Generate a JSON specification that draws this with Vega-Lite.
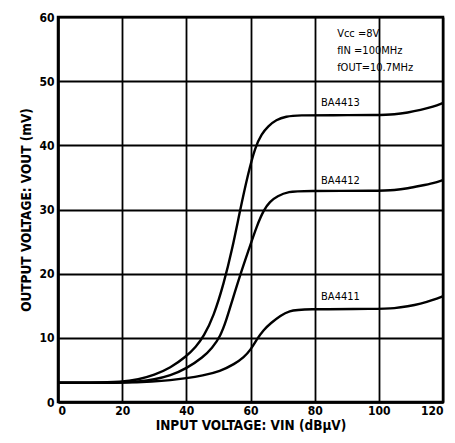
{
  "$schema": "https://vega.github.io/schema/vega-lite/v6.json",
  "width": 385,
  "height": 385,
  "autosize": {"type": "none"},
  "padding": {"left": 58, "top": 17, "right": 12, "bottom": 41},
  "background": "white",
  "config": {
    "view": {"stroke": "black", "strokeWidth": 2.5},
    "font": "DejaVu Sans Condensed, Liberation Sans, sans-serif",
    "axis": {
      "domainColor": "black", "domainWidth": 2.5,
      "gridColor": "black", "gridWidth": 1.8, "gridOpacity": 1,
      "tickColor": "black", "tickSize": 0,
      "labelColor": "black", "labelFont": "DejaVu Sans Condensed, Liberation Sans, sans-serif", "labelFontSize": 12, "labelFontWeight": "bold",
      "titleColor": "black", "titleFont": "DejaVu Sans Condensed, Liberation Sans, sans-serif", "titleFontSize": 13.5, "titleFontWeight": "bold"
    }
  },
  "datasets": {
    "curves": [
      {"series": "BA4413", "x": 0, "y": 3}, {"series": "BA4413", "x": 10, "y": 3}, {"series": "BA4413", "x": 20, "y": 3.1},
      {"series": "BA4413", "x": 25, "y": 3.5}, {"series": "BA4413", "x": 30, "y": 4.2}, {"series": "BA4413", "x": 35, "y": 5.3},
      {"series": "BA4413", "x": 40, "y": 7.1}, {"series": "BA4413", "x": 43, "y": 8.6}, {"series": "BA4413", "x": 45.4, "y": 10.2},
      {"series": "BA4413", "x": 48.5, "y": 13.3}, {"series": "BA4413", "x": 51.7, "y": 18.5}, {"series": "BA4413", "x": 54.3, "y": 23.8},
      {"series": "BA4413", "x": 56.8, "y": 30}, {"series": "BA4413", "x": 59.2, "y": 35.5}, {"series": "BA4413", "x": 61.5, "y": 39.8},
      {"series": "BA4413", "x": 63.5, "y": 41.8}, {"series": "BA4413", "x": 65.5, "y": 43}, {"series": "BA4413", "x": 68, "y": 44},
      {"series": "BA4413", "x": 71, "y": 44.5}, {"series": "BA4413", "x": 75, "y": 44.7}, {"series": "BA4413", "x": 85, "y": 44.7},
      {"series": "BA4413", "x": 100, "y": 44.7}, {"series": "BA4413", "x": 105, "y": 44.8}, {"series": "BA4413", "x": 109, "y": 45.1},
      {"series": "BA4413", "x": 113, "y": 45.5}, {"series": "BA4413", "x": 117, "y": 46}, {"series": "BA4413", "x": 120, "y": 46.6},

      {"series": "BA4412", "x": 0, "y": 3}, {"series": "BA4412", "x": 10, "y": 3}, {"series": "BA4412", "x": 20, "y": 3},
      {"series": "BA4412", "x": 25, "y": 3.2}, {"series": "BA4412", "x": 30, "y": 3.5}, {"series": "BA4412", "x": 35, "y": 4.1},
      {"series": "BA4412", "x": 40, "y": 5.2}, {"series": "BA4412", "x": 45.3, "y": 7}, {"series": "BA4412", "x": 48, "y": 8.4},
      {"series": "BA4412", "x": 50.6, "y": 10.2}, {"series": "BA4412", "x": 52.5, "y": 12.8}, {"series": "BA4412", "x": 54.3, "y": 15.8},
      {"series": "BA4412", "x": 56.9, "y": 20}, {"series": "BA4412", "x": 59.5, "y": 23.8}, {"series": "BA4412", "x": 62, "y": 27.5},
      {"series": "BA4412", "x": 64.2, "y": 30}, {"series": "BA4412", "x": 66, "y": 31.2}, {"series": "BA4412", "x": 68.3, "y": 32.1},
      {"series": "BA4412", "x": 72, "y": 32.8}, {"series": "BA4412", "x": 76, "y": 32.9}, {"series": "BA4412", "x": 100, "y": 32.9},
      {"series": "BA4412", "x": 105, "y": 33}, {"series": "BA4412", "x": 109, "y": 33.3}, {"series": "BA4412", "x": 113, "y": 33.7},
      {"series": "BA4412", "x": 117, "y": 34.1}, {"series": "BA4412", "x": 120, "y": 34.6},

      {"series": "BA4411", "x": 0, "y": 3}, {"series": "BA4411", "x": 10, "y": 3}, {"series": "BA4411", "x": 20, "y": 3},
      {"series": "BA4411", "x": 30, "y": 3.2}, {"series": "BA4411", "x": 35, "y": 3.4}, {"series": "BA4411", "x": 40, "y": 3.7},
      {"series": "BA4411", "x": 45, "y": 4.1}, {"series": "BA4411", "x": 50.6, "y": 4.8}, {"series": "BA4411", "x": 55, "y": 5.9},
      {"series": "BA4411", "x": 58, "y": 7}, {"series": "BA4411", "x": 60, "y": 8.1}, {"series": "BA4411", "x": 62, "y": 9.8},
      {"series": "BA4411", "x": 64, "y": 11.2}, {"series": "BA4411", "x": 66.3, "y": 12.3}, {"series": "BA4411", "x": 69.4, "y": 13.5},
      {"series": "BA4411", "x": 72, "y": 14.2}, {"series": "BA4411", "x": 76, "y": 14.5}, {"series": "BA4411", "x": 100, "y": 14.5},
      {"series": "BA4411", "x": 105, "y": 14.6}, {"series": "BA4411", "x": 109, "y": 14.9}, {"series": "BA4411", "x": 113, "y": 15.3},
      {"series": "BA4411", "x": 117, "y": 15.9}, {"series": "BA4411", "x": 120, "y": 16.5}
    ],
    "labels": [
      {"text": "BA4413", "x": 82, "y": 46.6},
      {"text": "BA4412", "x": 82, "y": 34.4},
      {"text": "BA4411", "x": 82, "y": 16.4},
      {"text": "Vcc =8V", "x": 87, "y": 57.4},
      {"text": "fIN   =100MHz", "x": 87, "y": 54.7},
      {"text": "fOUT=10.7MHz", "x": 87, "y": 52}
    ]
  },
  "layer": [
    {
      "data": {"name": "curves"},
      "mark": {"type": "line", "interpolate": "basis", "color": "black", "strokeWidth": 2.4},
      "encoding": {
        "x": {"field": "x", "type": "quantitative",
              "scale": {"domain": [0, 120], "nice": false},
              "axis": {"values": [0, 20, 40, 60, 80, 100, 120], "grid": true, "labelPadding": 3,
                       "title": "INPUT  VOLTAGE: VIN (dBμV)", "titlePadding": 2}},
        "y": {"field": "y", "type": "quantitative",
              "scale": {"domain": [0, 60], "nice": false},
              "axis": {"values": [0, 10, 20, 30, 40, 50, 60], "grid": true, "labelPadding": 4,
                       "title": "OUTPUT  VOLTAGE: VOUT (mV)", "titlePadding": 5}},
        "detail": {"field": "series"}
      }
    },
    {
      "data": {"name": "labels"},
      "mark": {"type": "text", "align": "left", "baseline": "middle", "fontSize": 11, "color": "black", "font": "DejaVu Sans Condensed, Liberation Sans, sans-serif"},
      "encoding": {
        "x": {"field": "x", "type": "quantitative"},
        "y": {"field": "y", "type": "quantitative"},
        "text": {"field": "text"}
      }
    }
  ]
}
